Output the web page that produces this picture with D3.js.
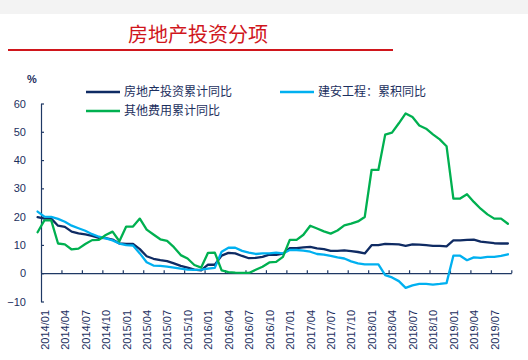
<!DOCTYPE html>
<html><head><meta charset="utf-8">
<script src="https://cdn.jsdelivr.net/npm/d3@7"></script>
<style>body{margin:0;background:#fff}svg{display:block}</style>
</head><body>
<svg id="c" width="528" height="360"></svg>
<script>
const months = ["2013/12",
"2014/01","2014/02","2014/03","2014/04","2014/05","2014/06","2014/07","2014/08","2014/09","2014/10","2014/11","2014/12",
"2015/01","2015/02","2015/03","2015/04","2015/05","2015/06","2015/07","2015/08","2015/09","2015/10","2015/11","2015/12",
"2016/01","2016/02","2016/03","2016/04","2016/05","2016/06","2016/07","2016/08","2016/09","2016/10","2016/11","2016/12",
"2017/01","2017/02","2017/03","2017/04","2017/05","2017/06","2017/07","2017/08","2017/09","2017/10","2017/11","2017/12",
"2018/01","2018/02","2018/03","2018/04","2018/05","2018/06","2018/07","2018/08","2018/09","2018/10","2018/11","2018/12",
"2019/01","2019/02","2019/03","2019/04","2019/05","2019/06","2019/07","2019/08","2019/09"];
const tickLabels = ["2014/01","2014/04","2014/07","2014/10","2015/01","2015/04","2015/07","2015/10",
"2016/01","2016/04","2016/07","2016/10","2017/01","2017/04","2017/07","2017/10",
"2018/01","2018/04","2018/07","2018/10","2019/01","2019/04","2019/07"];
const yTicks = [-10,0,10,20,30,40,50,60];
const titleText = "房地产投资分项";
const seriesNames = ["房地产投资累计同比","建安工程：累积同比","其他费用累计同比"];
const seriesColors = ["#0f2b63","#00b0f0","#00b050"];

const realEstate = [19.8,
19.3,19.3,16.8,16.4,14.7,14.1,13.7,13.2,12.5,12.4,11.9,10.5,
10.4,10.4,8.5,6.0,5.1,4.6,4.3,3.5,2.6,2.0,1.3,1.0,
3.0,3.0,6.2,7.2,7.0,6.1,5.3,5.4,5.8,6.6,6.5,6.9,
8.9,8.9,9.1,9.3,8.8,8.5,7.9,7.9,8.1,7.8,7.5,7.0,
9.9,9.9,10.4,10.3,10.2,9.7,10.2,10.1,9.9,9.7,9.7,9.5,
11.6,11.6,11.8,11.9,11.2,10.9,10.6,10.5,10.5];
const construction = [21.8,
20.0,19.9,19.2,18.2,16.8,15.9,15.0,13.8,12.9,12.3,11.6,10.5,
9.9,9.8,7.0,3.9,2.7,2.6,2.3,2.0,1.6,1.3,1.2,1.3,
1.6,1.9,7.6,9.0,9.0,7.9,7.3,6.8,7.0,7.0,7.3,7.0,
8.2,8.2,8.0,7.6,6.8,6.6,6.1,5.6,5.2,4.2,3.5,3.1,
3.1,3.1,-0.7,-1.5,-2.8,-5.2,-4.3,-3.8,-3.8,-4.0,-3.8,-3.5,
6.2,6.2,4.6,5.6,5.4,5.8,5.8,6.1,6.7];
const otherCost = [14.5,
18.7,18.7,10.5,10.2,8.4,8.7,10.3,11.7,11.8,13.5,14.7,11.3,
16.5,16.5,19.3,15.4,13.7,12.0,11.4,9.2,6.4,5.2,2.9,2.0,
7.2,7.3,1.0,0.4,0.2,0.1,0.1,1.2,2.3,3.8,4.0,5.8,
11.8,11.8,13.6,16.8,15.8,14.8,14.0,15.1,16.9,17.5,18.3,19.9,
36.5,36.5,49.0,49.7,53.0,56.5,55.2,52.2,51.1,49.1,47.3,44.9,
26.4,26.4,27.9,25.2,22.8,20.8,19.3,19.3,17.5];

const axisColor = "#1f3864";
const textColor = "#1c2f5e";
const svg = d3.select("#c");

// top band
svg.append("rect").attr("x",0).attr("y",0).attr("width",528).attr("height",14).attr("fill","#f3f3f3");
// title
svg.append("text").attr("x",128).attr("y",42).attr("font-family","'Noto Sans CJK SC'")
  .attr("font-size",20).attr("fill","#d0161c").text(titleText);
svg.append("line").attr("x1",8).attr("x2",393).attr("y1",50).attr("y2",50)
  .attr("stroke","#d0161c").attr("stroke-width",2);

const x = d3.scaleLinear().domain([0.5, 69.5]).range([41, 511.3]);
const y = d3.scaleLinear().domain([-10, 60]).range([301.5, 103.5]);

// y axis
const ya = svg.append("g").attr("transform","translate(41,0)")
  .call(d3.axisLeft(y).tickValues(yTicks).tickSize(-3).tickSizeOuter(0).tickPadding(15));
ya.selectAll("path,line").attr("stroke",axisColor).attr("stroke-width",1.2);
ya.selectAll("text").attr("font-family","'Liberation Sans', Arial, sans-serif").attr("font-size",11).attr("fill",textColor);

svg.append("text").attr("x",32).attr("y",83).attr("text-anchor","middle")
  .attr("font-family","'Liberation Sans', Arial, sans-serif").attr("font-size",11).attr("font-weight","bold")
  .attr("fill",textColor).text("%");

// x axis at y=0
const bounds = d3.range(0.5, 70, 3);
const xa = svg.append("g").attr("transform",`translate(0,${y(0)})`)
  .call(d3.axisBottom(x).tickValues(bounds).tickSize(-3).tickSizeOuter(0).tickFormat(""));
xa.selectAll("path,line").attr("stroke",axisColor).attr("stroke-width",1.2);

// x labels
svg.append("g").selectAll("text").data(tickLabels).join("text")
  .attr("transform", d => `translate(${x(months.indexOf(d))+0.5},310) rotate(-90)`)
  .attr("text-anchor","end").attr("dy","0.35em")
  .attr("font-family","'Liberation Sans', Arial, sans-serif").attr("font-size",11)
  .attr("fill",textColor).text(d => d);

// lines
const line = d3.line().x((d,i) => x(i)).y(d => y(d));
[realEstate, construction, otherCost].forEach((s, k) => {
  svg.append("path").datum(s).attr("d", line).attr("fill","none")
    .attr("stroke", seriesColors[k]).attr("stroke-width", 2.3)
    .attr("stroke-linejoin","round").attr("stroke-linecap","round");
});

// legend
const legendPos = [[86,92],[280,92],[86,111]];
seriesNames.forEach((n,k) => {
  const [lx,ly] = legendPos[k];
  svg.append("line").attr("x1",lx).attr("x2",lx+34).attr("y1",ly).attr("y2",ly)
    .attr("stroke",seriesColors[k]).attr("stroke-width",2.5);
  svg.append("text").attr("x",lx+38).attr("y",ly).attr("dy","0.36em")
    .attr("font-family","'Noto Sans CJK SC'").attr("font-size",12)
    .attr("fill",textColor).text(n);
});
</script>
</body></html>
